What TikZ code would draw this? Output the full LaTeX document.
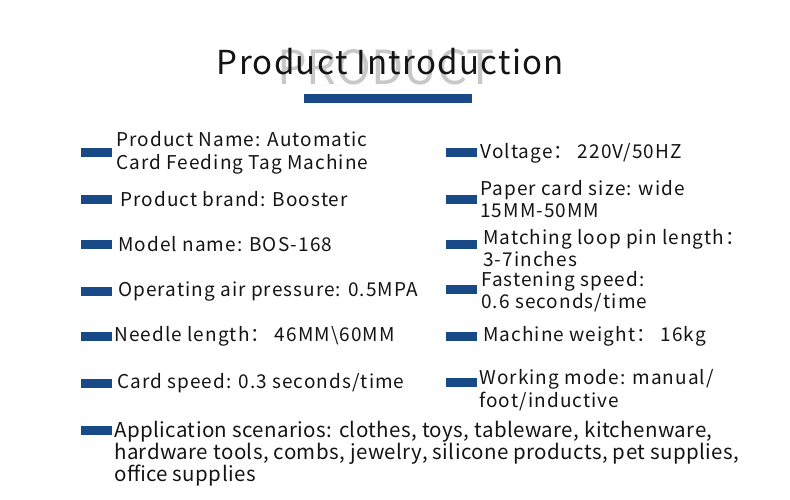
\documentclass[tikz,border=0pt]{standalone}
\usepackage{fontspec}
\setmainfont{Noto Sans CJK SC}
\newfontfamily\bodyfont[LetterSpace=5.5]{Noto Sans CJK SC}
\newfontfamily\titlefont[LetterSpace=4]{Noto Sans CJK SC}
\newfontfamily\listfont[LetterSpace=2]{Noto Sans CJK SC}
\usetikzlibrary{positioning}
\definecolor{barblue}{RGB}{24,74,135}
\definecolor{ghostgray}{RGB}{200,200,200}
\definecolor{inkblack}{RGB}{20,20,20}

\begin{document}
\begin{tikzpicture}
  [x=1pt,y=-1pt,
   bar/.style={rectangle, fill=barblue, minimum width=31pt, minimum height=9pt, inner sep=0pt},
   info/.style={anchor=west, align=left, inner sep=0pt, text=inkblack, font=\bodyfont\fontsize{19}{22.5}\selectfont}]
  \useasboundingbox (0,0) rectangle (790,500);

  \node[text=ghostgray, inner sep=0pt, font=\fontsize{47}{47}\selectfont] (ghost) at (386,67) {PRODUCT};
  \node[text=inkblack, inner sep=0pt, font=\titlefont\fontsize{33}{33}\selectfont] (title) at (390.5,62) {Product Introduction};
  \node[bar, minimum width=168pt] (rule) at (388,98.5) {};

  % left column
  \node[bar] (b1) at (96.5,153) {};
  \node[bar] (b2) at (96.5,199) {};
  \node[bar] (b3) at (96.5,244.5) {};
  \node[bar] (b4) at (96.5,291.5) {};
  \node[bar] (b5) at (96.5,336.5) {};
  \node[bar] (b6) at (96.5,383.5) {};
  \node[bar] (b7) at (96.5,430.5) {};

  \node[info, right=4pt of b1] (t1) {Product Name: Automatic\\Card Feeding Tag Machine};
  \node[info, right=8pt of b2] (t2) {Product brand: Booster};
  \node[info, right=6pt of b3] (t3) {Model name: BOS-168};
  \node[info, right=6pt of b4] (t4) {Operating air pressure: 0.5MPA};
  \node[info, right=2pt of b5] (t5) {Needle length： 46MM\textbackslash 60MM};
  \node[info, right=5pt of b6] (t6) {Card speed: 0.3 seconds/time};
  \node[info, anchor=north west, font=\listfont\fontsize{20.5}{21.5}\selectfont] (t7) at (114,421) {Application scenarios: clothes, toys, tableware, kitchenware,\\hardware tools, combs, jewelry, silicone products, pet supplies,\\office supplies};

  % right column
  \node[bar] (r1) at (461.5,153) {};
  \node[bar] (r2) at (461.5,199) {};
  \node[bar] (r3) at (461.5,244) {};
  \node[bar] (r4) at (461.5,289.5) {};
  \node[bar] (r5) at (461.5,336.5) {};
  \node[bar] (r6) at (461.5,382) {};

  \node[info, right=3pt of r1] (s1) {Voltage： 220V/50HZ};
  \node[info, right=3pt of r2] (s2) {Paper card size: wide\\15MM-50MM};
  \node[info, right=6pt of r3, yshift=-4pt] (s3) {Matching loop pin length：\\3-7inches};
  \node[info, right=4pt of r4, yshift=-2pt] (s4) {Fastening speed:\\0.6 seconds/time};
  \node[info, right=6pt of r5] (s5) {Machine weight： 16kg};
  \node[info, right=2pt of r6, yshift=-8pt] (s6) {Working mode: manual/\\foot/inductive};

\end{tikzpicture}
\end{document}
